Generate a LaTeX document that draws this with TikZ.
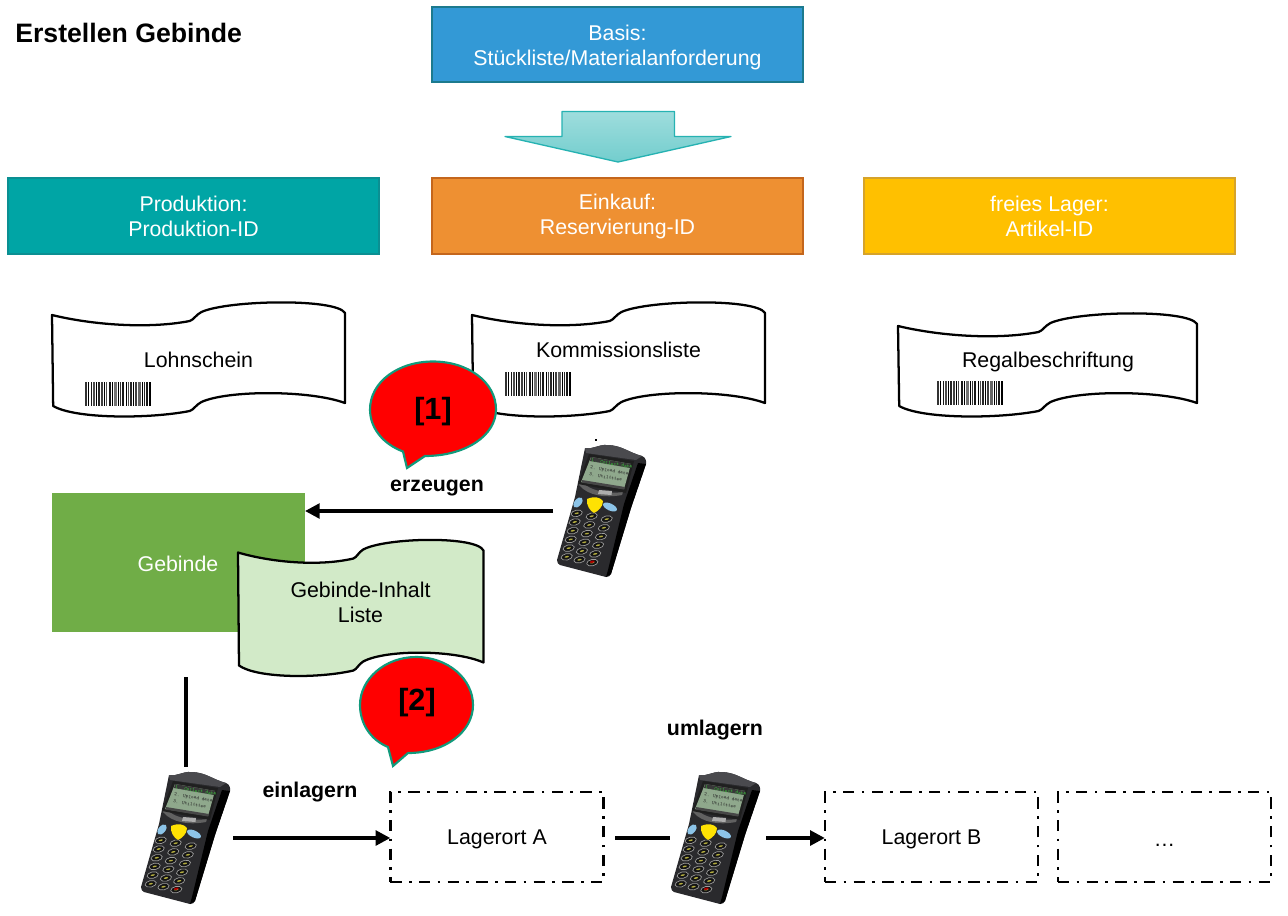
\documentclass[tikz,border=0pt]{standalone}
\usepackage{fontspec}
\setmainfont{Liberation Sans}
\usetikzlibrary{arrows.meta}
\definecolor{cBlue}{HTML}{3399D6}\definecolor{cBlueE}{HTML}{1C7A8E}
\definecolor{cTeal}{HTML}{00A5A5}\definecolor{cTealE}{HTML}{0B8F92}
\definecolor{cOrange}{HTML}{EE9032}\definecolor{cOrangeE}{HTML}{C4661C}
\definecolor{cYellow}{HTML}{FFC000}\definecolor{cYellowE}{HTML}{D6A32A}
\definecolor{cGreen}{HTML}{70AD47}\definecolor{cPale}{HTML}{D2EAC8}
\definecolor{cBubble}{HTML}{119A7C}
\definecolor{cBody}{HTML}{2A2A2D}\definecolor{cRim}{HTML}{4A4A4E}
\definecolor{cScreen}{HTML}{8FA88C}\definecolor{cBtn}{HTML}{8CC4E8}
\newcommand\up{\rule{0pt}{16pt}}
\newcommand\upr{\rule{0pt}{12.2pt}}
\newcommand\upl{\rule{0pt}{14.5pt}}
\newcommand\wavepath[4]{(#1,#2) .. controls ({#1+.14*#3},{#2+10}) and ({#1+.33*#3},{#2+14}) .. ({#1+.47*#3},{#2+6})
 .. controls ({#1+.485*#3},{#2+4.5}) and ({#1+.49*#3},{#2+0}) .. ({#1+.51*#3},{#2-3})
 .. controls ({#1+.6*#3},{#2-15}) and ({#1+.97*#3},{#2-17}) .. ({#1+#3},{#2-2})
 -- ({#1+#3},{#2+#4-2})
 .. controls ({#1+.88*#3},{#2+#4-15}) and ({#1+.6*#3},{#2+#4-15}) .. ({#1+.51*#3},{#2+#4-3})
 .. controls ({#1+.49*#3},{#2+#4+0}) and ({#1+.485*#3},{#2+#4+4.5}) .. ({#1+.47*#3},{#2+#4+6})
 .. controls ({#1+.33*#3},{#2+#4+14}) and ({#1+.08*#3},{#2+#4+14}) .. ({#1+.004*#3},{#2+#4+1}) -- cycle}
\newcommand\barcode[2]{\begin{scope}[shift={(#1,#2)}]
 \foreach \a/\b/\c in {0/1.5/80,3/1/100,5.5/1/90,8/2/70,11/1/100,13/1.5/85,15.5/2.5/75,19/1/100,21/1/70,23.5/2/90,26.5/1/100,28.5/3/55,32.5/1/100,34.5/1.5/80,37/2/90,40.5/1/100,42.5/1/70,44.5/2.5/85,48/1/100,50/1.5/75,52.5/3/60,56.5/1/100,58.5/1.5/85,61/2/90,64/2/100}
 {\fill[black!\c] (\a,0) rectangle ({\a+\b},24);}
\end{scope}}
\tikzset{
 x=.75pt,y=-.75pt,
 hdr/.style={draw,line width=1.5pt,outer sep=0pt,inner sep=0pt,text=white,align=center,minimum width=278.25pt,minimum height=56.5pt,font=\fontsize{16}{18.7}\selectfont},
 lbl/.style={align=center,inner sep=0pt,font=\fontsize{16}{18.7}\selectfont},
 blbl/.style={inner sep=0pt,font=\fontsize{16}{18}\selectfont\bfseries},
 wave/.style={draw=black,line width=1.7pt,line join=round},
 bubble/.style={fill=red,draw=cBubble,line width=1.6pt,line join=miter},
 conn/.style={line width=2.6pt},
 connarrow/.style={conn,-{Triangle[length=11pt,width=11pt]}},
 lager/.style={draw,line width=1.8pt,dash pattern=on 8.5pt off 5.5pt on 2pt off 5.5pt,minimum width=160pt,minimum height=67.5pt,outer sep=0pt,inner sep=0pt,font=\fontsize{16}{18.7}\selectfont},
 scanner/.pic={
  \fill[cBody] (-13,-60) to[out=-10,in=175] (9,-63) to[out=0,in=165] (44,-52) to[out=-20,in=80] (48,-44) -- (33,0) -- (13,66) to[out=-100,in=10] (8,69) -- (-38,57) to[out=170,in=-80] (-41,52) -- (-23,-11) -- cycle;
  \fill[black] (40,-45) -- (48,-44) -- (33,0) -- (13,66) -- (8,69) -- (10,62) -- (26,-4) -- cycle;
  \fill[cRim] (-13,-60) to[out=-10,in=175] (9,-63) to[out=0,in=165] (44,-52) -- (38,-48) -- (-12,-55) -- cycle;
  \fill[black!62] (-18,-28) .. controls (-8,-16) and (12,-14) .. (25,-16) -- (24,-13) .. controls (8,-10) and (-10,-12) .. (-19,-23) -- cycle;
  \fill[black!32] (1,-18) -- (14,-17) -- (13.5,-13) -- (0,-14) -- cycle;
  \fill[black!88] (-9,-54) -- (36,-47) -- (28,-15) -- (-20,-24) -- cycle;
  \fill[cScreen] (-7,-51) -- (33,-44) -- (26,-19) -- (-17,-26) -- cycle;
  \fill[black!78] (-7,-51) -- (33,-44) -- (32,-40) -- (-8,-47) -- cycle;
  \node[rotate=-9,inner sep=0pt,align=left,anchor=north west,text=black!85,font=\fontsize{3.8}{5.3}\selectfont\ttfamily] (-screen) at (-6.5,-49.5) {\textcolor{green!55!gray}{1. Collect data}\\2. Upload data\\3. Utilities};
  \fill[black!72] (-16,-28) -- (27,-21) -- (26,-18.5) -- (-16.5,-25.5) -- cycle;
  \fill[cBtn,rotate around={50:(-20,-5.5)}] (-20,-5.5) ellipse (6 and 3.5);
  \fill[cBtn,rotate around={-25:(12,-1)}] (12,-1) ellipse (7.5 and 3.5);
  \fill[yellow!85!orange] (-11,-9) .. controls (-4,-12) and (2,-11) .. (5,-7) .. controls (5,-1) and (0,3) .. (-4,5) .. controls (-8,3) and (-12,-3) .. (-11,-9) -- cycle;
  \foreach \r in {0,...,5}\foreach \c in {0,1,2}{
   \pgfmathsetmacro\kx{-21.3+\c*(15-.44*\r)-2*\r}
   \pgfmathsetmacro\ky{5.3+2.9*\c+8.7*\r}
   \draw[black!38,fill=black!92,line width=.5pt,rotate around={12:(\kx,\ky)}] (\kx,\ky) ellipse (5.7 and 3.2);
   \fill[yellow!65!black,rotate around={12:(\kx,\ky)}] (\kx,\ky) ellipse (2.2 and .8);
  }
  \fill[red!70!black,rotate around={12:(-5.7,53.7)}] (-5.7,53.7) ellipse (2.4 and 1.1);
 }
}
\begin{document}
\begin{tikzpicture}
\useasboundingbox (0,0) rectangle (1288,915);
\node[anchor=west,inner sep=0pt,font=\fontsize{20}{22}\selectfont\bfseries] (title) at (15,33) {Erstellen Gebinde};

\node[hdr,fill=cBlue,draw=cBlueE] (basis) at (617.5,44.5) {\up Basis:\\Stückliste/Materialanforderung};
\shade[top color=cTeal!38,bottom color=cTeal!55,draw=cTeal!85,line width=1pt,line join=round]
 (562,111.5) -- (674.5,111.5) -- (674.5,136.5) -- (731,136.5) -- (618,162) -- (505,136.5) -- (562,136.5) -- cycle;
\node[hdr,fill=cTeal,draw=cTealE] (prod) at (193.5,216) {\upr Produktion:\\Produktion-ID};
\node[hdr,fill=cOrange,draw=cOrangeE] (einkauf) at (617.5,216) {\upr Einkauf:\\Reservierung-ID};
\node[hdr,fill=cYellow,draw=cYellowE] (lager) at (1049.5,216) {\upr freies Lager:\\Artikel-ID};

\draw[wave,fill=white] \wavepath{52}{315}{293}{90};
\node[lbl] (lohn) at (198.5,360) {Lohnschein};
\barcode{85}{382}
\draw[wave,fill=white] \wavepath{472}{315}{293}{90};
\node[lbl] (komm) at (618.5,350) {Kommissionsliste};
\barcode{505}{372}
\draw[wave,fill=white] \wavepath{898}{326}{299}{79};
\node[lbl] (regal) at (1048,361.5) {Regalbeschriftung};
\barcode{937}{381}

\draw[bubble] (403,451.5) -- (407,468) -- (425,456) .. controls (465,456) and (496,436) .. (496,409.5) .. controls (496,382) and (468,361.5) .. (433,361.5) .. controls (398,361.5) and (370,382) .. (370,409.5) .. controls (370,428) and (383,444) .. (403,451.5) -- cycle;
\node[inner sep=0pt,font=\fontsize{23}{26}\selectfont\bfseries] (b1) at (433,412) {[1]};
\node[blbl] (erz) at (437,488) {erzeugen};

\node[fill=cGreen,minimum width=189.75pt,minimum height=104.25pt,outer sep=0pt,inner sep=0pt] (gebinde) at (178.5,562.5) {};
\node[lbl,text=white] (gebt) at (178,563.5) {Gebinde};
\draw[wave,fill=cPale] \wavepath{238}{552.5}{245.5}{112};
\node[lbl] (inhalt) at (360.5,602.5) {Gebinde-Inhalt\\Liste};

\draw[bubble] (388,747) -- (393,766) -- (408,753) .. controls (445,753) and (473,732) .. (473,705) .. controls (473,679) and (448,657) .. (416,657) .. controls (385,657) and (360,679) .. (360,705) .. controls (360,724) and (371,740) .. (388,747) -- cycle;
\node[inner sep=0pt,font=\fontsize{23}{26}\selectfont\bfseries] (b2) at (417,703) {[2]};

\pic (ph1) at (598,508) {scanner};
\pic (ph2) at (182,835) {scanner};
\pic (ph3) at (712,835) {scanner};
\coordinate (speck) at (596,440);
\fill (speck) ++(-1,-.6) rectangle ++(2,1.2);

\node[lager] (la) at (497,837) {\upl Lagerort A};
\node[lager] (lb) at (931.5,837) {\upl Lagerort B};
\node[lager] (lc) at (1164.5,837) {\upl …};
\node[blbl] (einl) at (310,792) {einlagern};
\node[blbl] (uml) at (715,730) {umlagern};

\coordinate (sA) at (553,511);
\coordinate (sB) at (186,677);
\coordinate (sC) at (186,767);
\coordinate (sD) at (233,838);
\coordinate (sE) at (670,838);
\coordinate (sF) at (766,838);
\coordinate (sA2) at (615,838);
\draw[connarrow] (sA) -- (sA -| gebinde.east);
\draw[conn,line width=2.3pt] (sB) -- (sC);
\draw[connarrow] (sD) -- (sD -| la.west);
\draw[conn] (sA2) -- (sE);
\draw[connarrow] (sF) -- (sF -| lb.west);
\end{tikzpicture}
\end{document}
